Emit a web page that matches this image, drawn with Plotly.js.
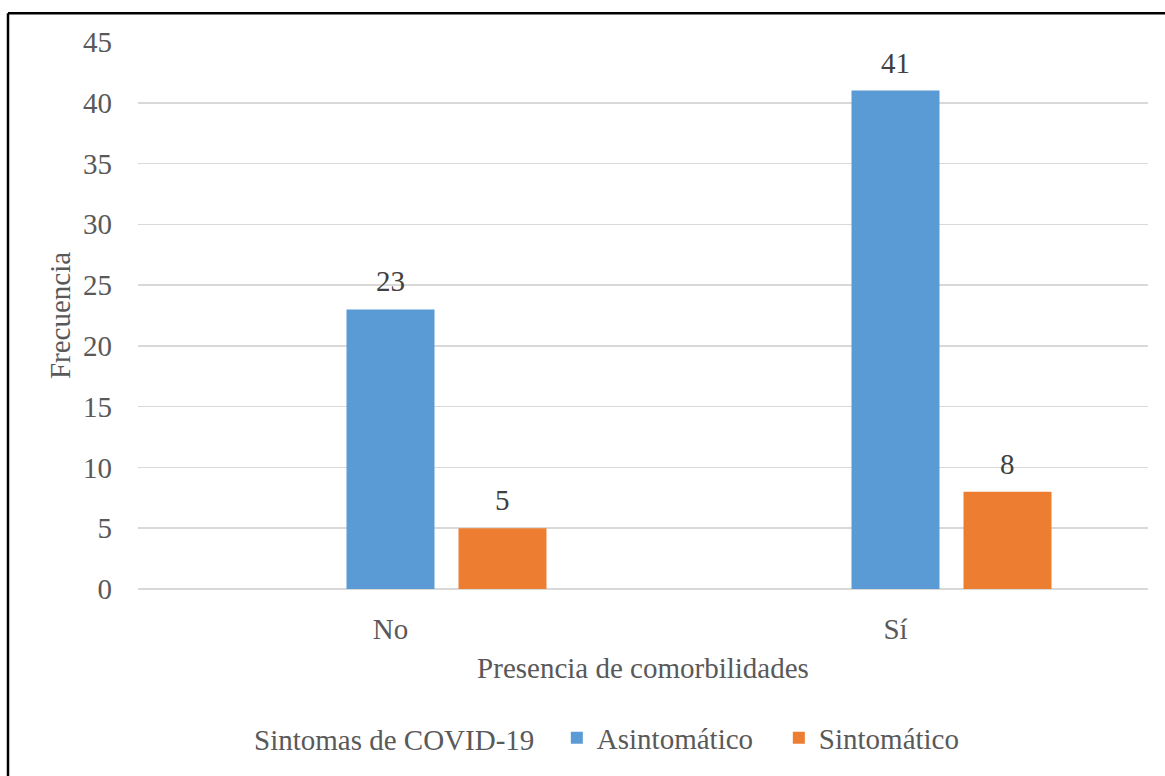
<!DOCTYPE html>
<html>
<head>
<meta charset="utf-8">
<script src="https://cdn.plot.ly/plotly-3.0.1.min.js"></script>
<style>
  html, body { margin: 0; padding: 0; background: #ffffff; }
  #chart { width: 1165px; height: 776px; }
</style>
</head>
<body>
<div id="chart"></div>
<script>
// ---- data ----
const categories = ["No", "Sí"];
const seriesNames = ["Asintomático", "Sintomático"];
const asintomatico = [23, 41];
const sintomatico = [5, 8];
const emptySeries = [null, null];
const legendTitle = "Sintomas de COVID-19";
const xTitle = "Presencia de comorbilidades";
const yTitle = "Frecuencia";
const yTicks = [0, 5, 10, 15, 20, 25, 30, 35, 40, 45];

// ---- styles ----
const FONT = "'Liberation Serif', 'Times New Roman', Times, serif";
const TXT = "#595959";
const LBL = "#404040";
const FS = 29;

const W = 1165, H = 776;
const M = { l: 138, r: 17, t: 42, b: 183 };
const pw = W - M.l - M.r, ph = H - M.t - M.b;
const px = v => (v - M.l) / pw;
const py = v => (H - M.b - v) / ph;

const BARGAP = 0.3347, BARGROUPGAP = 0.2143, NSLOTS = 3;
const slotPx = (pw / categories.length) * (1 - BARGAP) / NSLOTS;

const traces = [
  {
    type: "bar", x: categories, y: emptySeries, name: "", showlegend: false,
    hoverinfo: "skip", marker: { color: "rgba(0,0,0,0)" }
  },
  {
    type: "bar", x: categories, y: asintomatico, name: seriesNames[0],
    marker: { color: "#5B9BD5" }
  },
  {
    type: "bar", x: categories, y: sintomatico, name: seriesNames[1],
    marker: { color: "#ED7D31" }
  }
];

// data labels, placed from the same data arrays
const annotations = [];
[asintomatico, sintomatico].forEach((vals, k) => {
  const slotIndex = k + 1; // slot 0 is the empty series
  vals.forEach((v, i) => {
    annotations.push({
      x: categories[i], y: v, xref: "x", yref: "y",
      text: String(v), showarrow: false,
      xanchor: "center", yanchor: "bottom",
      xshift: (slotIndex - (NSLOTS - 1) / 2) * slotPx,
      yshift: 10,
      font: { family: FONT, size: FS, color: LBL }
    });
  });
});

const layout = {
  width: W, height: H, autosize: false,
  margin: M,
  paper_bgcolor: "#ffffff", plot_bgcolor: "#ffffff",
  font: { family: FONT, size: FS, color: TXT },
  barmode: "group",
  bargap: BARGAP,
  bargroupgap: BARGROUPGAP,
  showlegend: true,
  legend: {
    orientation: "h",
    x: px(252), xanchor: "left",
    y: py(743), yanchor: "middle",
    title: { text: legendTitle + "&nbsp;&nbsp;", side: "left", font: { family: FONT, size: FS, color: TXT } },
    font: { family: FONT, size: FS, color: TXT },
    entrywidth: 177, entrywidthmode: "pixels",
    itemwidth: 30, tracegroupgap: 0
  },
  annotations: annotations,
  xaxis: {
    type: "category",
    showgrid: false, showline: false, zeroline: false, ticks: "",
    ticklabelstandoff: 20,
    tickfont: { family: FONT, size: FS, color: TXT },
    title: { text: xTitle, font: { family: FONT, size: FS, color: TXT }, standoff: 13 },
    automargin: false
  },
  yaxis: {
    range: [0, 45], tickvals: yTicks, ticktext: yTicks.map(String),
    showgrid: true, gridcolor: "#D9D9D9", gridwidth: 1.5,
    zeroline: true, zerolinecolor: "#D9D9D9", zerolinewidth: 1.5,
    showline: false, ticks: "", ticklabelstandoff: 25,
    tickfont: { family: FONT, size: FS, color: TXT },
    title: { text: yTitle, font: { family: FONT, size: FS, color: TXT }, standoff: 3 },
    automargin: false
  },
  shapes: [
    { type: "line", xref: "paper", yref: "paper", x0: px(8), x1: px(8), y0: py(13), y1: py(800),
      line: { color: "#000000", width: 2.5 } },
    { type: "line", xref: "paper", yref: "paper", x0: px(8), x1: px(1200), y0: py(13), y1: py(13),
      line: { color: "#000000", width: 2.5 } }
  ]
};

Plotly.newPlot("chart", traces, layout, { displayModeBar: false, staticPlot: true });
</script>
</body>
</html>
